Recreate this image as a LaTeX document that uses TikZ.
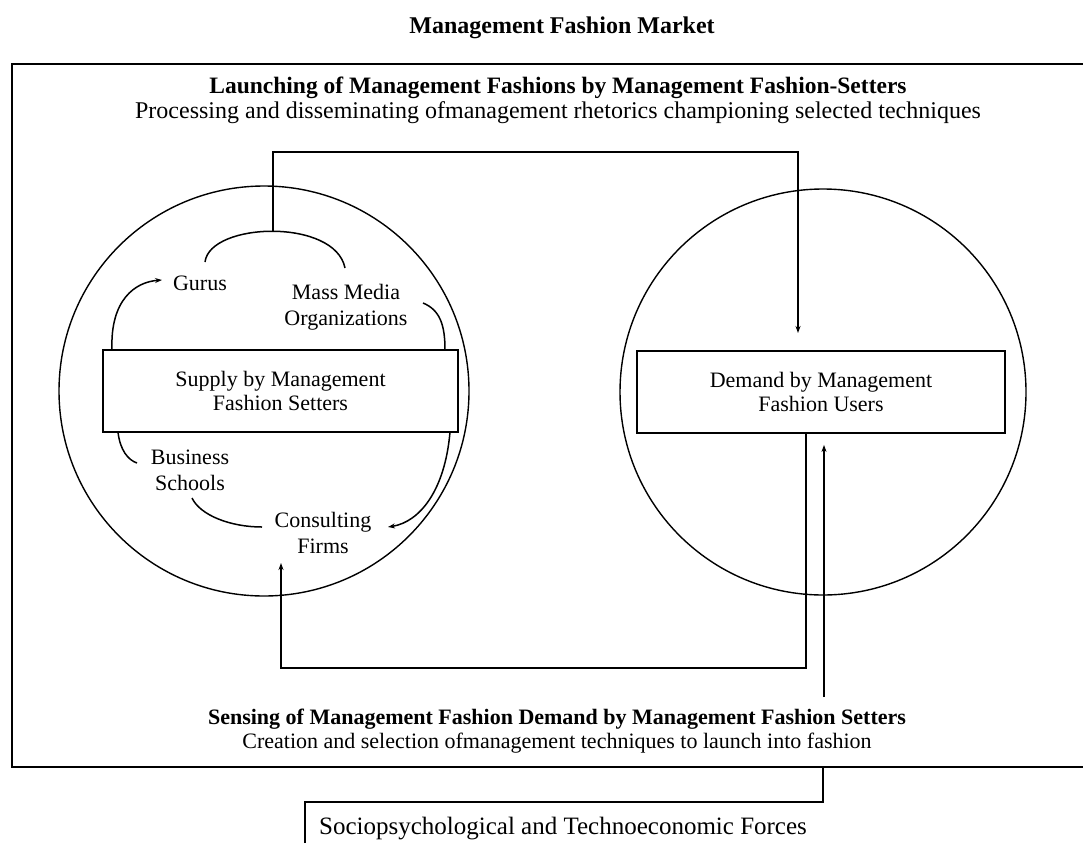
\documentclass[tikz,border=0pt]{standalone}
\usepackage{fontspec}
\setmainfont{Liberation Serif}
\usetikzlibrary{arrows.meta}
\begin{document}
\begin{tikzpicture}[x=1pt,y=-1pt,
  frame/.style={line width=2.8pt},
  ring/.style={draw,circle,line width=1.4pt,inner sep=0pt},
  boxnode/.style={draw,line width=1.8pt,minimum width=355pt,minimum height=82pt,
    align=center,inner sep=0pt,font=\fontsize{22}{24}\selectfont},
  lbl/.style={align=center,inner sep=0pt,font=\fontsize{22}{26}\selectfont},
  head/.style={align=center,inner sep=0pt},
  link/.style={line width=2pt},
  curl/.style={line width=1.5pt},
  tip/.style={-{Stealth[length=7pt,width=5pt]}}
]
\useasboundingbox (0,0) rectangle (1083,843);

% headings
\node[font=\bfseries\fontsize{24}{26}\selectfont] (title) at (562,28) {Management Fashion Market};
\node[head,font=\fontsize{24}{25}\selectfont] (launch) at (558,100)
  {{\fontsize{23.5}{25}\selectfont\bfseries Launching of Management Fashions by Management Fashion-Setters}\\
   Processing and disseminating ofmanagement rhetorics championing selected techniques};
\node[head,font=\fontsize{22}{24.5}\selectfont] (sense) at (557,731)
  {\textbf{Sensing of Management Fashion Demand by Management Fashion Setters}\\
   Creation and selection ofmanagement techniques to launch into fashion};

% market frame, open on the right
\draw[frame] (1083,64) -- (12,64) -- (12,767) -- (1083,767);

% supply and demand sides
\node[ring,minimum size=410pt] (supcirc) at (264,391) {};
\node[ring,minimum size=406pt] (demcirc) at (823,392) {};
\node[boxnode] (supply) at (280.5,391) {Supply by Management\\Fashion Setters};
\node[boxnode,minimum width=368pt] (demand) at (821,392) {Demand by Management\\Fashion Users};

% fashion-setter communities
\node[lbl] (gurus) at (200,283) {Gurus};
\node[lbl] (media) at (346,307) {Mass Media\\Organizations};
\node[lbl] (business) at (190,470) {Business\\Schools};
\node[lbl] (consult) at (323,533) {Consulting\\Firms};

% links between the communities
\draw[curl] (205,262) .. controls (210,222) and (335,218) .. (345,268) coordinate[pos=0.5] (crest);
\draw[curl,tip] (112,350) .. controls (110,300) and (135,282) .. (162,280);
\draw[curl] (423,303) .. controls (440,310) and (445,325) .. (445,350);
\draw[curl] (118,432) .. controls (120,450) and (128,460) .. (137,463);
\draw[curl] (192,498) .. controls (200,515) and (230,527) .. (262,527);
\draw[curl,tip] (450,432) .. controls (445,490) and (420,522) .. (388,527);

% launching and sensing loops
\coordinate (turnA) at (798,152);
\coordinate (inD) at (798,333);
\draw[link,tip] (crest) |- (turnA) -- (inD);
\coordinate (turnB) at (281,668);
\coordinate (inS) at (281,563);
\draw[link,tip] (demand.south -| 806,0) |- (turnB) -- (inS);
\coordinate (sfoot) at (824,697);
\draw[link,tip,shorten >=11pt] (sfoot) -- (demand.south -| sfoot);

% external forces
\node[font=\fontsize{25}{27}\selectfont] (forces) at (563,829) {Sociopsychological and Technoeconomic Forces};
\draw[line width=2.4pt] (305,843) -- (305,802) -- (823,802) -- (823,767);
\end{tikzpicture}
\end{document}
